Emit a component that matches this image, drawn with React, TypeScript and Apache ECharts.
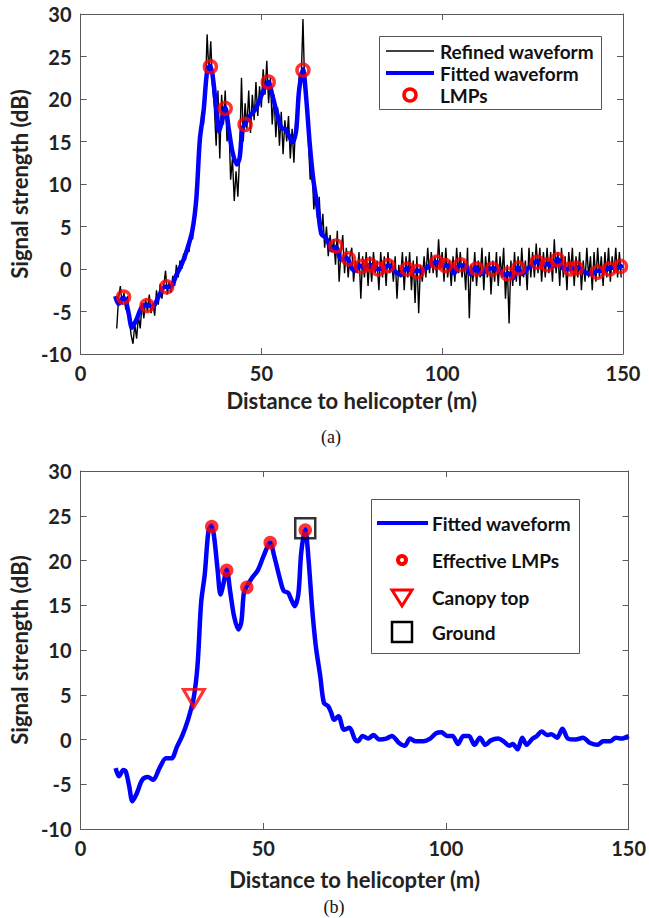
import React, { useEffect, useRef } from "react";
import * as echarts from "echarts";

// ---------- data ----------
const xTicks = [0, 50, 100, 150];
const yTicks = [-10, -5, 0, 5, 10, 15, 20, 25, 30];

// Refined waveform: sampled every 0.5 m starting at 10 m
const refinedStart = 10;
const refinedStep = 0.5;
const refinedY = [
  -7.0, -3.5, -2.0, -4.2, -2.8, -4.8, -3.2, -6.0, -7.8, -8.8,
  -6.5, -8.2, -5.5, -7.0, -4.0, -5.8, -3.6, -5.0, -3.0, -5.2,
  -4.0, -5.5, -2.5, -4.2, -1.8, -3.5, -2.0, -0.2, -3.0, -1.5,
  -2.8, -0.8, -2.0, 0.5, -1.0, 1.0, 0.0, 1.8, 1.0, 2.8,
  2.0, 4.0, 3.5, 7.0, 9.0, 12.5, 14.0, 18.5, 17.0, 21.0,
  27.6, 23.0, 26.8, 21.5, 19.0, 14.5, 21.0, 13.0, 20.5, 17.0,
  21.0, 15.0, 17.5, 10.5, 13.0, 8.0, 11.5, 8.5, 13.5, 22.5,
  15.0, 19.5, 16.5, 21.0, 16.0, 20.5, 17.5, 22.0, 18.0, 21.5,
  19.0, 23.5, 20.5, 24.5, 19.5, 22.5, 17.0, 20.5, 15.5, 19.0,
  14.5, 18.5, 13.5, 17.5, 15.0, 18.0, 13.0, 16.5, 12.5, 17.5,
  19.0, 23.0, 22.0, 29.4, 21.0, 19.0, 15.0, 10.5, 12.0, 7.0,
  9.5, 6.0, 8.5, 4.0, 6.5, 2.5, 5.0, 1.5, 4.0, 2.0,
  3.5, 0.5, 4.5, -1.5, 2.0, 4.0, -0.5, 2.5, -1.0, 1.5,
  2.5, -1.5, 1.0, -0.5, 2.0, -3.5, 1.5, -1.0, 2.0, -2.0,
  1.5, -1.5, 2.0, -0.5, 1.0, -2.5, 2.0, -1.0, 1.5, -2.0,
  2.0, -0.5, 1.0, -1.5, 1.5, -3.5, 0.5, -1.0, 2.0, -2.5,
  1.5, -1.0, 2.0, -2.5, 1.0, -4.0, 1.5, -5.2, 0.5, -1.5,
  1.5, -1.0, 2.5, -0.5, 2.0, -0.5, 1.5, -1.0, 3.5, 0.0,
  2.0, -1.5, 2.5, -1.0, 1.0, -2.0, 1.5, -1.5, 2.5, -0.5,
  2.0, -1.0, 1.0, -2.5, 2.5, -5.8, 0.5, -1.5, 2.0, -2.0,
  1.0, -1.0, 2.5, -2.5, 1.5, -1.0, 2.0, -3.0, 1.0, -1.5,
  2.0, -2.0, 1.5, -1.0, 2.5, -3.5, 0.5, -6.4, 1.0, -2.0,
  2.0, -1.5, 1.5, -2.0, 2.5, -1.0, 1.0, -2.5, 2.5, -1.0,
  2.0, -1.0, 3.0, -0.5, 2.5, -1.5, 2.0, -1.0, 2.5, -0.5,
  2.0, -1.5, 3.5, -0.5, 2.0, -2.0, 2.5, -1.0, 1.5, -2.5,
  2.0, -0.5, 2.5, -2.0, 1.5, -1.0, 2.0, -2.5, 1.0, -1.5,
  2.5, -1.0, 1.5, -2.5, 2.0, -1.5, 2.5, -1.0, 1.5, -2.0,
  2.0, -1.0, 2.5, -1.5, 1.5, -0.5, 2.5, -1.0, 2.0, -1.0,
];

// Fitted waveform [distance, dB]
const fitted: [number, number][] = [
  [9.6, -3.2], [10.5, -4.1], [11.7, -3.4], [12.4, -3.6], [13.3, -5.2], [14.2, -6.9],
  [15.4, -6.0], [16.9, -4.5], [18.4, -4.2], [19.9, -4.5], [21.6, -3.2], [23.4, -2.1],
  [24.9, -2.1], [26.4, -0.8], [27.9, 0.5], [29.4, 2.2], [30.9, 4.5], [32.0, 8.2],
  [33.0, 15.3], [34.0, 18.5], [35.0, 23.3], [35.8, 23.9], [36.5, 22.8], [37.5, 19.0],
  [38.3, 16.2], [39.0, 17.2], [40.0, 19.0], [41.0, 16.4], [42.0, 13.8], [43.2, 12.3],
  [44.0, 13.1], [44.7, 16.4], [45.5, 17.1], [47.0, 18.1], [48.5, 18.9], [50.0, 20.4],
  [51.9, 22.0], [53.0, 20.5], [54.6, 17.9], [55.6, 16.6], [56.8, 16.4], [57.6, 15.7],
  [58.6, 14.9], [59.6, 16.2], [60.4, 20.9], [61.5, 23.5], [62.4, 20.1], [63.4, 14.6],
  [64.4, 10.4], [65.6, 7.1], [66.6, 4.1], [67.8, 3.7], [68.6, 3.0], [69.4, 2.2],
  [70.6, 2.6], [72.1, 1.1], [73.6, 1.3], [75.1, 0.0], [75.9, -0.2], [77.2, 0.4],
  [78.7, 0.1], [80.2, 0.5], [81.7, 0.0], [83.7, 0.1], [85.2, 0.4], [87.2, -0.4],
  [88.7, -0.7], [90.2, 0.1], [91.7, -0.2], [93.8, -0.2], [95.7, 0.1], [97.3, 0.7],
  [98.8, 0.8], [100.3, 0.4], [101.8, 0.4], [103.3, -0.5], [104.8, 0.4], [106.3, 0.4],
  [107.8, -0.6], [109.3, 0.2], [110.8, -0.6], [112.3, -0.1], [114.3, 0.1], [115.8, -0.2],
  [117.3, -0.7], [118.3, -0.5], [119.6, -1.1], [120.9, 0.2], [122.1, -0.6], [123.7, 0.1],
  [124.9, 0.4], [126.2, 0.9], [127.7, 0.5], [128.9, 0.6], [130.4, 0.2], [131.9, 1.2],
  [133.4, 0.1], [135.5, 0.0], [137.5, 0.2], [139.5, -0.4], [141.5, -0.6], [143.0, -0.2],
  [145.0, -0.2], [146.5, 0.2], [148.0, 0.1], [150.0, 0.4],
];

const lmps: [number, number][] = [
  [11.9, -3.3], [18.4, -4.3], [23.8, -2.1], [35.9, 23.8], [40.0, 18.9], [45.5, 17.0],
  [51.9, 22.0], [61.5, 23.4], [70.6, 2.7], [74.1, 1.2], [77.7, 0.3], [80.0, 0.5],
  [82.3, 0.0], [85.0, 0.4], [90.3, 0.0], [93.1, -0.3], [98.5, 0.8], [100.9, 0.4],
  [105.1, 0.5], [109.5, 0.0], [113.9, 0.0], [118.1, -0.6], [121.1, 0.1], [126.3, 0.8],
  [129.0, 0.5], [131.9, 1.1], [135.4, 0.0], [137.1, 0.1], [142.9, -0.4], [146.3, 0.0],
  [149.3, 0.3],
];

const effectiveLmps: [number, number][] = [
  [35.9, 23.8], [40.0, 18.9], [45.5, 17.0], [51.9, 22.0], [61.5, 23.4],
];
const canopyTop: [number, number][] = [[31.0, 4.6]];
const ground: [number, number][] = [[61.5, 23.6]];

const legendTop = ["Refined waveform", "Fitted waveform", "LMPs"];
const legendBottom = ["Fitted waveform", "Effective LMPs", "Canopy top", "Ground"];
const captions = ["(a)", "(b)"];
const xTitle = "Distance to helicopter (m)";
const yTitle = "Signal strength (dB)";

// ---------- styling ----------
const FONT = "Lato";
const TXT = "#222";
const AX = "#595959";
const BLUE = "#0000ff";
const RED = "#ff0000";

function xAxes(gridIndex: number, nameGap: number) {
  const common = {
    gridIndex,
    type: "value" as const,
    min: xTicks[0],
    max: xTicks[xTicks.length - 1],
    interval: xTicks[1] - xTicks[0],
    splitLine: { show: false },
    axisLine: { show: true, onZero: false, lineStyle: { color: AX, width: 1 } },
    axisTick: { show: true, inside: true, length: 6, lineStyle: { color: AX } },
  };
  return [
    {
      ...common,
      position: "bottom",
      name: xTitle,
      nameLocation: "middle",
      nameGap,
      nameTextStyle: { fontFamily: FONT, fontWeight: "bold", fontSize: 22, color: TXT },
      axisLabel: { margin: 9, fontFamily: FONT, fontWeight: "bold", fontSize: 20, color: TXT },
    },
    { ...common, position: "top", axisLabel: { show: false } },
  ];
}

function yAxes(gridIndex: number) {
  const common = {
    gridIndex,
    type: "value" as const,
    min: yTicks[0],
    max: yTicks[yTicks.length - 1],
    interval: yTicks[1] - yTicks[0],
    splitLine: { show: false },
    axisLine: { show: true, onZero: false, lineStyle: { color: AX, width: 1 } },
    axisTick: { show: true, inside: true, length: 6, lineStyle: { color: AX } },
  };
  return [
    {
      ...common,
      position: "left",
      name: yTitle,
      nameLocation: "middle",
      nameGap: 41,
      nameRotate: 90,
      nameTextStyle: { fontFamily: FONT, fontWeight: "bold", fontSize: 22, color: TXT },
      axisLabel: { margin: 9, fontFamily: FONT, fontWeight: "bold", fontSize: 20, color: TXT },
    },
    { ...common, position: "right", axisLabel: { show: false } },
  ];
}

function txt(text: string, x: number, y: number, font: string, align = "left") {
  return {
    type: "text",
    silent: true,
    z: 100,
    style: {
      text,
      x,
      y,
      font,
      fill: "#111",
      align,
      textAlign: align,
      verticalAlign: "middle",
      textVerticalAlign: "middle",
    },
  };
}

const legendFont = `bold 19px ${FONT}`;

export default function App() {
  const ref = useRef<HTMLDivElement>(null);

  useEffect(() => {
    document.body.style.margin = "0";
    if (!ref.current) return;
    const chart = echarts.init(ref.current, undefined, { renderer: "svg" });

    const refined = refinedY.map((y, i) => [refinedStart + i * refinedStep, y]);

    const graphic: any[] = [
      // top legend
      {
        type: "rect",
        z: 90,
        shape: { x: 379.5, y: 36.5, width: 222, height: 73 },
        style: { fill: "#fff", stroke: "#555", lineWidth: 1 },
      },
      { type: "line", z: 100, shape: { x1: 386, y1: 51, x2: 434, y2: 51 }, style: { stroke: "#000", lineWidth: 1.5 } },
      txt(legendTop[0], 440, 51, legendFont),
      { type: "line", z: 100, shape: { x1: 386, y1: 73, x2: 434, y2: 73 }, style: { stroke: BLUE, lineWidth: 4 } },
      txt(legendTop[1], 440, 73, legendFont),
      { type: "circle", z: 100, shape: { cx: 410, cy: 95, r: 6 }, style: { fill: "none", stroke: RED, lineWidth: 3.5 } },
      txt(legendTop[2], 440, 95, legendFont),

      // bottom legend
      {
        type: "rect",
        z: 90,
        shape: { x: 371.5, y: 499.5, width: 208, height: 154 },
        style: { fill: "#fff", stroke: "#555", lineWidth: 1 },
      },
      { type: "line", z: 100, shape: { x1: 377, y1: 523, x2: 428, y2: 523 }, style: { stroke: BLUE, lineWidth: 4 } },
      txt(legendBottom[0], 432, 523, legendFont),
      { type: "circle", z: 100, shape: { cx: 402, cy: 560, r: 4 }, style: { fill: "none", stroke: RED, lineWidth: 4 } },
      txt(legendBottom[1], 432, 560, legendFont),
      {
        type: "polygon",
        z: 100,
        shape: { points: [[392, 590], [412, 590], [402, 606]] },
        style: { fill: "none", stroke: RED, lineWidth: 3 },
      },
      txt(legendBottom[2], 432, 597, legendFont),
      { type: "rect", z: 100, shape: { x: 392, y: 622, width: 20, height: 20 }, style: { fill: "none", stroke: "#000", lineWidth: 2.5 } },
      txt(legendBottom[3], 432, 632, legendFont),

      // captions
      txt(captions[0], 331, 437, `18px "Liberation Serif"`, "center"),
      txt(captions[1], 334, 907, `18px "Liberation Serif"`, "center"),
    ];

    chart.setOption({
      animation: false,
      backgroundColor: "#fff",
      grid: [
        { left: 75, top: 14, width: 548, height: 340, show: false },
        { left: 77, top: 471, width: 553, height: 358, show: false },
      ],
      xAxis: [...xAxes(0, 35), ...xAxes(1, 39)],
      yAxis: [...yAxes(0), ...yAxes(1)],
      graphic,
      series: [
        {
          name: "Refined waveform",
          type: "line",
          xAxisIndex: 0,
          yAxisIndex: 0,
          data: refined,
          symbol: "none",
          lineStyle: { color: "#000", width: 1.4 },
          silent: true,
          z: 2,
        },
        {
          name: "Fitted waveform",
          type: "line",
          xAxisIndex: 0,
          yAxisIndex: 0,
          data: fitted,
          symbol: "none",
          smooth: 0.3,
          lineStyle: { color: BLUE, width: 4.5 },
          silent: true,
          z: 3,
        },
        {
          name: "LMPs",
          type: "scatter",
          xAxisIndex: 0,
          yAxisIndex: 0,
          data: lmps,
          symbol: "circle",
          symbolSize: 12,
          itemStyle: { color: "rgba(0,0,0,0)", borderColor: RED, borderWidth: 3.5 },
          silent: true,
          z: 4,
        },
        {
          name: "Fitted waveform (b)",
          type: "line",
          xAxisIndex: 2,
          yAxisIndex: 2,
          data: fitted,
          symbol: "none",
          smooth: 0.3,
          lineStyle: { color: BLUE, width: 4.5 },
          silent: true,
          z: 3,
        },
        {
          name: "Effective LMPs",
          type: "scatter",
          xAxisIndex: 2,
          yAxisIndex: 2,
          data: effectiveLmps,
          symbol: "circle",
          symbolSize: 9,
          itemStyle: { color: "rgba(0,0,0,0)", borderColor: RED, borderWidth: 4.5 },
          silent: true,
          z: 4,
        },
        {
          name: "Canopy top",
          type: "scatter",
          xAxisIndex: 2,
          yAxisIndex: 2,
          data: canopyTop,
          symbol: "triangle",
          symbolRotate: 180,
          symbolSize: [21, 18],
          itemStyle: { color: "rgba(0,0,0,0)", borderColor: RED, borderWidth: 3 },
          silent: true,
          z: 4,
        },
        {
          name: "Ground",
          type: "scatter",
          xAxisIndex: 2,
          yAxisIndex: 2,
          data: ground,
          symbol: "rect",
          symbolSize: 20,
          itemStyle: { color: "rgba(0,0,0,0)", borderColor: "#000", borderWidth: 2.5 },
          silent: true,
          z: 5,
        },
      ],
    });

    return () => chart.dispose();
  }, []);

  return <div ref={ref} style={{ width: 649, height: 918 }} />;
}
